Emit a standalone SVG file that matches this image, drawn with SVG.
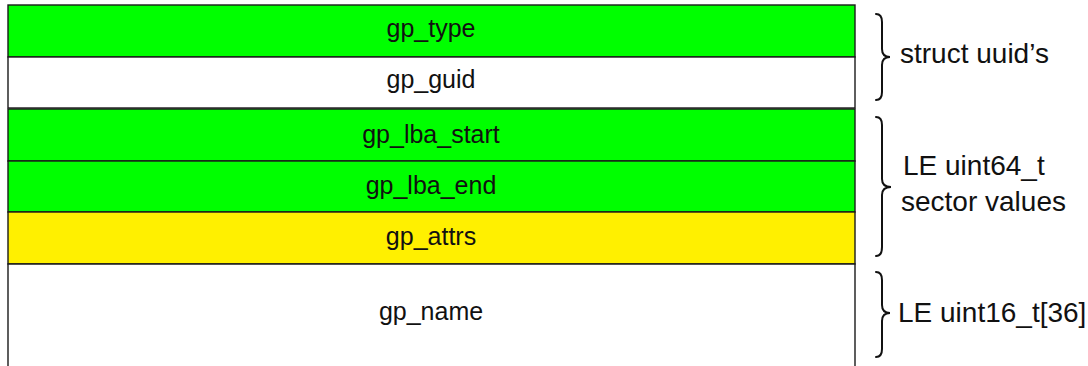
<svg xmlns="http://www.w3.org/2000/svg" width="1088" height="366" viewBox="0 0 1088 366">
  <style>
    .cell { stroke: #1a1a1a; stroke-width: 1.4; }
    .green { fill: #00ff00; }
    .yellow { fill: #fff000; }
    .white { fill: #ffffff; }
    .label { font-family: "Liberation Sans", Arial, sans-serif; font-size: 25px; fill: #111; text-anchor: middle; }
    .note { font-family: "Liberation Sans", Arial, sans-serif; font-size: 28px; fill: #111; }
    .brace { fill: none; stroke: #111; stroke-width: 2; stroke-linecap: round; }
  </style>
  <rect width="1088" height="366" fill="#ffffff"/>

  <!-- partition entry fields -->
  <g id="gp_type">
    <rect class="cell green" x="8" y="5" width="847" height="52"/>
    <text class="label" x="431" y="37">gp_type</text>
  </g>
  <g id="gp_guid">
    <rect class="cell white" x="8" y="57" width="847" height="51"/>
    <text class="label" x="431" y="88">gp_guid</text>
  </g>
  <g id="gp_lba_start">
    <rect class="cell green" x="8" y="109" width="847" height="52"/>
    <text class="label" x="431" y="143">gp_lba_start</text>
  </g>
  <g id="gp_lba_end">
    <rect class="cell green" x="8" y="161" width="847" height="51"/>
    <text class="label" x="431" y="194">gp_lba_end</text>
  </g>
  <g id="gp_attrs">
    <rect class="cell yellow" x="8" y="212" width="847" height="52"/>
    <text class="label" x="431" y="245">gp_attrs</text>
  </g>
  <g id="gp_name">
    <path class="cell white" d="M8,370 L8,264 L855,264 L855,370"/>
    <text class="label" x="431" y="320">gp_name</text>
  </g>

  <!-- braces grouping the fields -->
  <g id="connectors">
    <path class="brace" d="M876,14 Q882,14 882,22 L882,49 Q882,57 890,57 Q882,57 882,65 L882,92 Q882,100 876,100"/>
    <path class="brace" d="M876,117 Q882,117 882,125 L882,179 Q882,187 891,187 Q882,187 882,195 L882,247 Q882,256 876,256"/>
    <path class="brace" d="M876,272 Q882,272 882,280 L882,305 Q882,313 890,313 Q882,313 882,321 L882,349 Q882,357 876,357"/>
  </g>

  <g id="note_uuid">
    <text class="note" x="900" y="63">struct uuid’s</text>
  </g>
  <g id="note_uint64">
    <text class="note" x="903" y="175">LE uint64_t</text>
    <text class="note" x="901" y="211">sector values</text>
  </g>
  <g id="note_uint16">
    <text class="note" x="898" y="322">LE uint16_t[36]</text>
  </g>
</svg>
